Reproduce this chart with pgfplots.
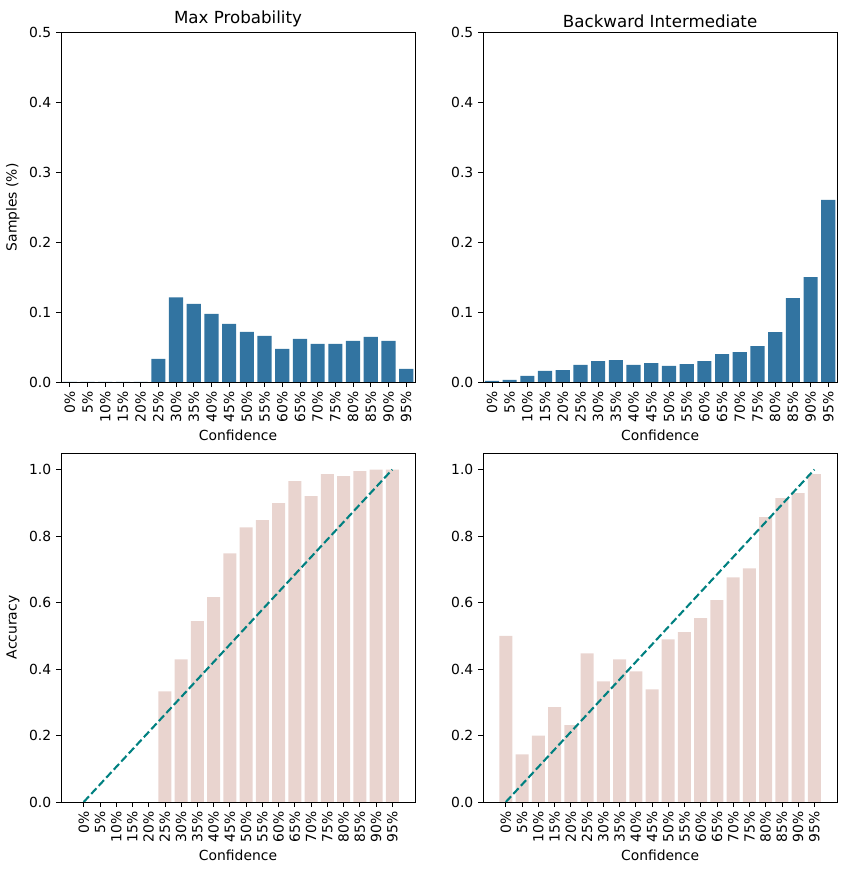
\documentclass[border=0pt]{standalone}
\usepackage{pgfplots}
\pgfplotsset{compat=1.18}
\usepackage{fontspec}
\setmainfont{DejaVu Sans}

\definecolor{barblue}{RGB}{50,116,161}
\definecolor{barpink}{RGB}{233,212,207}
\definecolor{diag}{RGB}{0,128,128}

\pgfplotsset{
  calib/.style={
    width=254.9pt, height=251.3pt, scale only axis,
    anchor=south west,
    font=\fontsize{10}{12}\selectfont,
    title style={font=\fontsize{12}{14}\selectfont, yshift=-5.5pt},
    /pgf/number format/assume math mode=true,
    yticklabel style={/pgf/number format/fixed, /pgf/number format/fixed zerofill, /pgf/number format/precision=1},
    xtick={0,...,19},
    xticklabels={0\%,5\%,10\%,15\%,20\%,25\%,30\%,35\%,40\%,45\%,50\%,55\%,60\%,65\%,70\%,75\%,80\%,85\%,90\%,95\%},
    xticklabel style={rotate=90, anchor=east, inner sep=3.2pt},
    xtick pos=left, ytick pos=left,
    tick align=outside,
    major tick length=3.5pt,
    tick style={black, line width=0.6pt},
    axis line style={line width=0.6pt},
    xlabel={Confidence},
    xlabel style={yshift=1pt},
    ymin=0,
  },
  top/.style={calib, xmin=-0.5, xmax=19.5, ymax=0.5, ytick={0,0.1,...,0.5}},
  bot/.style={calib, xmin=-1.4, xmax=20.4, ymax=1.05, ytick={0,0.2,0.4,0.6,0.8,1.0}},
  samples/.style={ybar, bar width=0.8, bar shift=0pt, draw=none, fill=barblue},
  accbar/.style={ybar, bar width=0.8, bar shift=0pt, draw=none, fill=barpink},
  ideal/.style={diag, line width=1.5pt, dash pattern=on 5.55pt off 2.4pt},
}

\begin{document}
\begin{tikzpicture}
\useasboundingbox (0,0) rectangle (609.1pt,627.8pt);

% top left: Max Probability
\begin{axis}[top, at={(43.9pt,352.8pt)}, title={Max Probability}, ylabel={Samples (\%)}]
\addplot[samples] coordinates {
(0,0) (1,0) (2,0) (3,0) (4,0) (5,0.033) (6,0.121) (7,0.112) (8,0.0976) (9,0.0833)
(10,0.0718) (11,0.066) (12,0.0474) (13,0.0617) (14,0.0545) (15,0.0545) (16,0.0589)
(17,0.0646) (18,0.0589) (19,0.0187)};
\end{axis}

% top right: Backward Intermediate
\begin{axis}[top, at={(347.8pt,352.8pt)}, title={Backward Intermediate}]
\addplot[samples] coordinates {
(0,0.0014) (1,0.003) (2,0.0086) (3,0.0157) (4,0.0171) (5,0.0243) (6,0.030) (7,0.0314)
(8,0.0243) (9,0.0271) (10,0.0229) (11,0.0257) (12,0.030) (13,0.040) (14,0.0429)
(15,0.0514) (16,0.0714) (17,0.120) (18,0.150) (19,0.261)};
\end{axis}

% bottom left: accuracy, Max Probability
\begin{axis}[bot, at={(43.9pt,50.4pt)}, ylabel={Accuracy}]
\addplot[accbar] coordinates {
(5,0.333) (6,0.429) (7,0.544) (8,0.616) (9,0.748) (10,0.826) (11,0.848) (12,0.899)
(13,0.965) (14,0.920) (15,0.986) (16,0.980) (17,0.995) (18,1.0) (19,1.0)};
\addplot[ideal] coordinates {(0,0) (19,1)};
\end{axis}

% bottom right: accuracy, Backward Intermediate
\begin{axis}[bot, at={(347.8pt,50.4pt)}]
\addplot[accbar] coordinates {
(0,0.500) (1,0.143) (2,0.200) (3,0.285) (4,0.231) (5,0.447) (6,0.363) (7,0.429)
(8,0.393) (9,0.339) (10,0.489) (11,0.511) (12,0.553) (13,0.607) (14,0.676)
(15,0.703) (16,0.857) (17,0.914) (18,0.929) (19,0.986)};
\addplot[ideal] coordinates {(0,0) (19,1)};
\end{axis}
\end{tikzpicture}
\end{document}
